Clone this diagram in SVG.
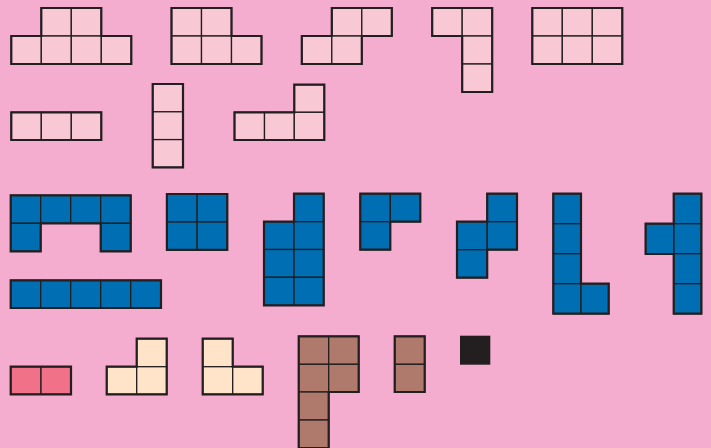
<svg xmlns="http://www.w3.org/2000/svg" width="711" height="448" viewBox="0 0 711 448">
<style>
.c{stroke:#231F20;stroke-width:1.3}
.o{fill:none;stroke:#231F20;stroke-width:2.2;stroke-linejoin:miter}
.lp{fill:#F9C8D5}
.bl{fill:#006EB2}
.rd{fill:#F17288}
.cr{fill:#FFE4C9}
.br{fill:#AF7A6B}
</style>
<rect width="711" height="448" fill="#F4ADCE"/>
<g id="s1" class="lp">
<rect class="c" x="41.3" y="8" width="30" height="28"/><rect class="c" x="71.3" y="8" width="30" height="28"/>
<rect class="c" x="11.3" y="36" width="30" height="28"/><rect class="c" x="41.3" y="36" width="30" height="28"/><rect class="c" x="71.3" y="36" width="30" height="28"/><rect class="c" x="101.3" y="36" width="30" height="28"/>
<path class="o" d="M11.3,36H41.3V8H101.3V36H131.3V64H11.3Z"/>
</g>
<g id="s2" class="lp">
<rect class="c" x="171.5" y="8" width="30" height="28"/><rect class="c" x="201.5" y="8" width="30" height="28"/>
<rect class="c" x="171.5" y="36" width="30" height="28"/><rect class="c" x="201.5" y="36" width="30" height="28"/><rect class="c" x="231.5" y="36" width="30" height="28"/>
<path class="o" d="M171.5,8H231.5V36H261.5V64H171.5Z"/>
</g>
<g id="s3" class="lp">
<rect class="c" x="331.8" y="8" width="30" height="28"/><rect class="c" x="361.8" y="8" width="30" height="28"/>
<rect class="c" x="301.8" y="36" width="30" height="28"/><rect class="c" x="331.8" y="36" width="30" height="28"/>
<path class="o" d="M331.8,8H391.8V36H361.8V64H301.8V36H331.8Z"/>
</g>
<g id="s4" class="lp">
<rect class="c" x="432.2" y="8" width="30" height="28"/><rect class="c" x="462.2" y="8" width="30" height="28"/>
<rect class="c" x="462.2" y="36" width="30" height="28"/><rect class="c" x="462.2" y="64" width="30" height="28"/>
<path class="o" d="M432.2,8H492.2V92H462.2V36H432.2Z"/>
</g>
<g id="s5" class="lp">
<rect class="c" x="532.3" y="8" width="30" height="28"/><rect class="c" x="562.3" y="8" width="30" height="28"/><rect class="c" x="592.3" y="8" width="30" height="28"/>
<rect class="c" x="532.3" y="36" width="30" height="28"/><rect class="c" x="562.3" y="36" width="30" height="28"/><rect class="c" x="592.3" y="36" width="30" height="28"/>
<path class="o" d="M532.3,8H622.3V64H532.3Z"/>
</g>
<g id="s6" class="lp">
<rect class="c" x="11.3" y="112.3" width="30" height="27.7"/><rect class="c" x="41.3" y="112.3" width="30" height="27.7"/><rect class="c" x="71.3" y="112.3" width="30" height="27.7"/>
<path class="o" d="M11.3,112.3H101.3V140H11.3Z"/>
</g>
<g id="s7" class="lp">
<rect class="c" x="152.7" y="84" width="30.3" height="27.8"/><rect class="c" x="152.7" y="111.8" width="30.3" height="27.8"/><rect class="c" x="152.7" y="139.6" width="30.3" height="27.8"/>
<path class="o" d="M152.7,84H183V167.4H152.7Z"/>
</g>
<g id="s8" class="lp">
<rect class="c" x="294.3" y="84.7" width="30" height="27.6"/>
<rect class="c" x="234.5" y="112.3" width="30" height="27.7"/><rect class="c" x="264.5" y="112.3" width="29.8" height="27.7"/><rect class="c" x="294.3" y="112.3" width="30" height="27.7"/>
<path class="o" d="M234.5,112.3H294.3V84.7H324.3V140H234.5Z"/>
</g>
<g id="s9" class="bl">
<rect class="c" x="10.7" y="195.3" width="30" height="28"/><rect class="c" x="40.7" y="195.3" width="30" height="28"/><rect class="c" x="70.7" y="195.3" width="30" height="28"/><rect class="c" x="100.7" y="195.3" width="30" height="28"/>
<rect class="c" x="10.7" y="223.3" width="30" height="28"/><rect class="c" x="100.7" y="223.3" width="30" height="28"/>
<path class="o" d="M10.7,195.3H130.7V251.3H100.7V223.3H40.7V251.3H10.7Z"/>
</g>
<g id="s10" class="bl">
<rect class="c" x="166.9" y="194" width="30.2" height="28"/><rect class="c" x="197.1" y="194" width="30.2" height="28"/>
<rect class="c" x="166.9" y="222" width="30.2" height="27.8"/><rect class="c" x="197.1" y="222" width="30.2" height="27.8"/>
<path class="o" d="M166.9,194H227.3V249.8H166.9Z"/>
</g>
<g id="s11" class="bl">
<rect class="c" x="10.7" y="280.3" width="30" height="27.7"/><rect class="c" x="40.7" y="280.3" width="30" height="27.7"/><rect class="c" x="70.7" y="280.3" width="30" height="27.7"/><rect class="c" x="100.7" y="280.3" width="30" height="27.7"/><rect class="c" x="130.7" y="280.3" width="30.3" height="27.7"/>
<path class="o" d="M10.7,280.3H161V308H10.7Z"/>
</g>
<g id="s12" class="bl">
<rect class="c" x="294" y="193.7" width="29.7" height="28"/>
<rect class="c" x="264" y="221.7" width="30" height="27.8"/><rect class="c" x="294" y="221.7" width="29.7" height="27.8"/>
<rect class="c" x="264" y="249.5" width="30" height="27.8"/><rect class="c" x="294" y="249.5" width="29.7" height="27.8"/>
<rect class="c" x="264" y="277.3" width="30" height="28"/><rect class="c" x="294" y="277.3" width="29.7" height="28"/>
<path class="o" d="M264,221.7H294V193.7H323.7V305.3H264Z"/>
</g>
<g id="s13" class="bl">
<rect class="c" x="360.3" y="193.7" width="30" height="28"/><rect class="c" x="390.3" y="193.7" width="30" height="28"/>
<rect class="c" x="360.3" y="221.7" width="30" height="28"/>
<path class="o" d="M360.3,193.7H420.3V221.7H390.3V249.7H360.3Z"/>
</g>
<g id="s14" class="bl">
<rect class="c" x="487.2" y="193.7" width="29.8" height="28"/>
<rect class="c" x="457" y="221.7" width="30.2" height="28"/><rect class="c" x="487.2" y="221.7" width="29.8" height="28"/>
<rect class="c" x="457" y="249.7" width="30.2" height="28"/>
<path class="o" d="M487.2,193.7H517V249.7H487.2V277.7H457V221.7H487.2Z"/>
</g>
<g id="s15" class="bl">
<rect class="c" x="553.3" y="193.7" width="27.7" height="30"/><rect class="c" x="553.3" y="223.7" width="27.7" height="30"/><rect class="c" x="553.3" y="253.7" width="27.7" height="30"/><rect class="c" x="553.3" y="283.7" width="27.7" height="30"/>
<rect class="c" x="581" y="283.7" width="27.7" height="30"/>
<path class="o" d="M553.3,193.7H581V283.7H608.7V313.7H553.3Z"/>
</g>
<g id="s16" class="bl">
<rect class="c" x="673.7" y="193.7" width="27.7" height="30"/><rect class="c" x="673.7" y="223.7" width="27.7" height="30"/><rect class="c" x="673.7" y="253.7" width="27.7" height="30"/><rect class="c" x="673.7" y="283.7" width="27.7" height="30"/>
<rect class="c" x="645.6" y="223.7" width="28.1" height="30.3"/>
<path class="o" d="M673.7,193.7H701.4V313.7H673.7V254H645.6V223.7H673.7Z"/>
</g>
<g id="s17" class="rd">
<rect class="c" x="10.7" y="366.7" width="30.3" height="27.6"/><rect class="c" x="41" y="366.7" width="30" height="27.6"/>
<path class="o" d="M10.7,366.7H71V394.3H10.7Z"/>
</g>
<g id="s18" class="cr">
<rect class="c" x="136.7" y="338.7" width="30" height="28"/>
<rect class="c" x="106.7" y="366.7" width="30" height="27.6"/><rect class="c" x="136.7" y="366.7" width="30" height="27.6"/>
<path class="o" d="M106.7,366.7H136.7V338.7H166.7V394.3H106.7Z"/>
</g>
<g id="s19" class="cr">
<rect class="c" x="202.7" y="338.7" width="30" height="28"/>
<rect class="c" x="202.7" y="366.7" width="30" height="27.6"/><rect class="c" x="232.7" y="366.7" width="30" height="27.6"/>
<path class="o" d="M202.7,338.7H232.7V366.7H262.7V394.3H202.7Z"/>
</g>
<g id="s20" class="br">
<rect class="c" x="298.7" y="336.3" width="30" height="28"/><rect class="c" x="328.7" y="336.3" width="30" height="28"/>
<rect class="c" x="298.7" y="364.3" width="30" height="27.7"/><rect class="c" x="328.7" y="364.3" width="30" height="27.7"/>
<rect class="c" x="298.7" y="392" width="30" height="28"/><rect class="c" x="298.7" y="420" width="30" height="28"/>
<path class="o" d="M298.7,336.3H358.7V392H328.7V448H298.7Z"/>
</g>
<g id="s21" class="br">
<rect class="c" x="394.7" y="336.3" width="30" height="28"/><rect class="c" x="394.7" y="364.3" width="30" height="27.7"/>
<path class="o" d="M394.7,336.3H424.7V392H394.7Z"/>
</g>
<g id="s22">
<rect x="460" y="335.7" width="30.3" height="29" fill="#231F20"/>
</g>
<g id="connectors"/>
</svg>
